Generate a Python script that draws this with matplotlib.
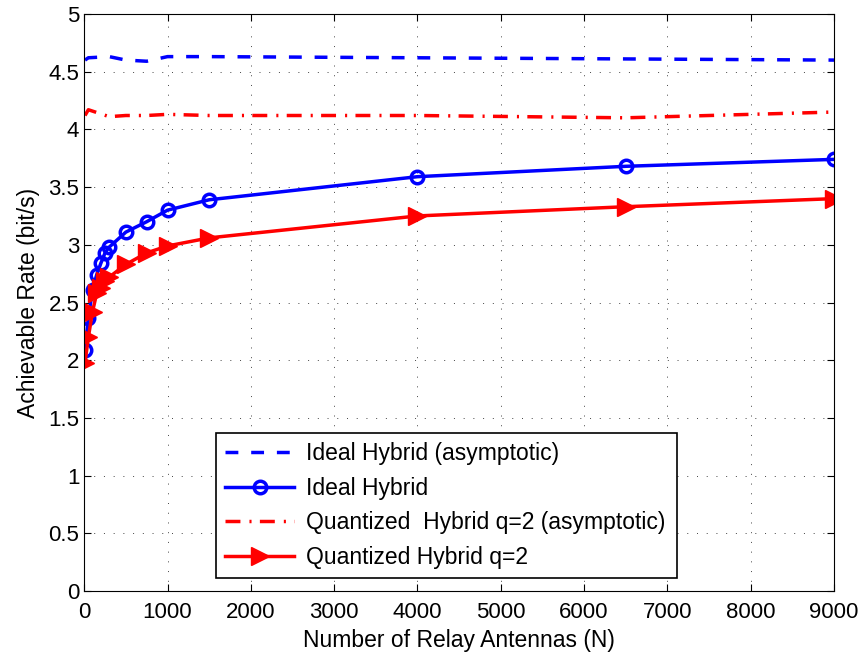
import numpy as np
import matplotlib.pyplot as plt

plt.rcParams['font.family'] = ['Liberation Sans', 'DejaVu Sans']

# antenna counts
N = [10, 50, 100, 150, 200, 250, 300, 500, 750, 1000, 1500, 4000, 6500, 9000]
ideal = [2.09, 2.37, 2.61, 2.74, 2.84, 2.93, 2.98, 3.11, 3.20, 3.30, 3.39, 3.59, 3.68, 3.74]
quant = [1.98, 2.20, 2.42, 2.58, 2.63, 2.69, 2.72, 2.83, 2.93, 2.99, 3.06, 3.25, 3.33, 3.40]

N_asym = [10, 50, 300, 500, 750, 1000, 1500, 4000, 6500, 9000]
ideal_asym = [4.60, 4.62, 4.63, 4.60, 4.59, 4.63, 4.63, 4.62, 4.61, 4.60]
quant_asym = [4.12, 4.17, 4.11, 4.12, 4.12, 4.13, 4.12, 4.12, 4.10, 4.15]

fig = plt.figure(figsize=(8.59, 6.62), dpi=100)
ax = fig.add_axes([0.098, 0.107, 0.873, 0.872])

ax.plot(N_asym, ideal_asym, '--', color='blue', lw=2.5, dashes=(3.7, 3.7),
        label='Ideal Hybrid (asymptotic)')
ax.plot(N, ideal, '-o', color='blue', lw=2.5, ms=9, mfc='none', mew=2.5,
        label='Ideal Hybrid')
ax.plot(N_asym, quant_asym, '-.', color='red', lw=2.5, dashes=(4.3, 2.6, 0.6, 2.4),
        label='Quantized  Hybrid q=2 (asymptotic)')
ax.plot(N, quant, '->', color='red', lw=2.5, ms=13,
        label='Quantized Hybrid q=2')

ax.set_xlim(0, 9000)
ax.set_ylim(0, 5)
ax.set_xticks(np.arange(0, 9001, 1000))
ax.set_yticks(np.arange(0, 5.01, 0.5))
ax.set_yticklabels(['0', '0.5', '1', '1.5', '2', '2.5', '3', '3.5', '4', '4.5', '5'])
ax.tick_params(direction='in', top=True, right=True, labelsize=16, length=5)
ax.tick_params(axis='x', pad=8)
ax.grid(True, linestyle=(0, (1, 9)), color='#444444', lw=0.7)
ax.set_xlabel('Number of Relay Antennas (N)', fontsize=16.5, labelpad=4)
ax.set_ylabel('Achievable Rate (bit/s)', fontsize=16.5, labelpad=6)

leg = ax.legend(loc='upper left', bbox_to_anchor=(0.176, 0.274, 0.615, 0.0),
                mode='expand', fontsize=16.5, fancybox=False, framealpha=1,
                edgecolor='black', borderaxespad=0, handlelength=3,
                handletextpad=0.5, labelspacing=0.5, borderpad=0.4)
leg.get_frame().set_linewidth(1.2)

fig.savefig('out.png', dpi=100)
